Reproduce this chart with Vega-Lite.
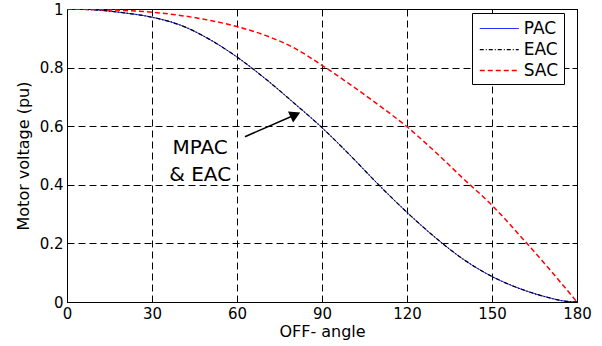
{
  "$schema": "https://vega.github.io/schema/vega-lite/v6.json",
  "width": 510,
  "height": 293,
  "autosize": {"type": "none"},
  "padding": {"left": 67, "top": 9, "right": 25, "bottom": 44},
  "background": "white",
  "config": {
    "font": "DejaVu Sans",
    "view": {"stroke": "black", "strokeWidth": 1},
    "axis": {
      "domainColor": "black",
      "tickColor": "black",
      "labelColor": "black",
      "titleColor": "black",
      "labelFont": "DejaVu Sans",
      "titleFont": "DejaVu Sans",
      "labelFontSize": 15,
      "titleFontSize": 16,
      "titleFontWeight": "normal",
      "tickSize": -5,
      "labelPadding": 9,
      "labelFlush": false,
      "labelOverlap": false,
      "gridColor": "black",
      "gridOpacity": 1,
      "gridDash": [7, 4],
      "gridWidth": 1
    }
  },
  "resolve": {"axis": {"x": "independent", "y": "independent"}},
  "datasets": {
    "curves": [
      {"a": 0, "v": 1.0, "s": "PAC"}, {"a": 5, "v": 0.999, "s": "PAC"}, {"a": 10, "v": 0.997, "s": "PAC"}, {"a": 20, "v": 0.987, "s": "PAC"}, {"a": 30, "v": 0.972, "s": "PAC"}, {"a": 40, "v": 0.945, "s": "PAC"}, {"a": 50, "v": 0.898, "s": "PAC"}, {"a": 60, "v": 0.836, "s": "PAC"}, {"a": 70, "v": 0.762, "s": "PAC"}, {"a": 80, "v": 0.68, "s": "PAC"}, {"a": 90, "v": 0.595, "s": "PAC"}, {"a": 100, "v": 0.5, "s": "PAC"}, {"a": 110, "v": 0.4, "s": "PAC"}, {"a": 120, "v": 0.306, "s": "PAC"}, {"a": 130, "v": 0.22, "s": "PAC"}, {"a": 140, "v": 0.145, "s": "PAC"}, {"a": 150, "v": 0.087, "s": "PAC"}, {"a": 160, "v": 0.045, "s": "PAC"}, {"a": 170, "v": 0.015, "s": "PAC"}, {"a": 175, "v": 0.004, "s": "PAC"}, {"a": 180, "v": 0.0, "s": "PAC"},
      {"a": 0, "v": 1.0, "s": "EAC"}, {"a": 5, "v": 0.999, "s": "EAC"}, {"a": 10, "v": 0.997, "s": "EAC"}, {"a": 20, "v": 0.987, "s": "EAC"}, {"a": 30, "v": 0.972, "s": "EAC"}, {"a": 40, "v": 0.945, "s": "EAC"}, {"a": 50, "v": 0.898, "s": "EAC"}, {"a": 60, "v": 0.836, "s": "EAC"}, {"a": 70, "v": 0.762, "s": "EAC"}, {"a": 80, "v": 0.68, "s": "EAC"}, {"a": 90, "v": 0.595, "s": "EAC"}, {"a": 100, "v": 0.5, "s": "EAC"}, {"a": 110, "v": 0.4, "s": "EAC"}, {"a": 120, "v": 0.306, "s": "EAC"}, {"a": 130, "v": 0.22, "s": "EAC"}, {"a": 140, "v": 0.145, "s": "EAC"}, {"a": 150, "v": 0.087, "s": "EAC"}, {"a": 160, "v": 0.045, "s": "EAC"}, {"a": 170, "v": 0.015, "s": "EAC"}, {"a": 175, "v": 0.004, "s": "EAC"}, {"a": 180, "v": 0.0, "s": "EAC"},
      {"a": 0, "v": 1.0, "s": "SAC"}, {"a": 10, "v": 0.998, "s": "SAC"}, {"a": 20, "v": 0.995, "s": "SAC"}, {"a": 30, "v": 0.989, "s": "SAC"}, {"a": 40, "v": 0.978, "s": "SAC"}, {"a": 50, "v": 0.962, "s": "SAC"}, {"a": 60, "v": 0.94, "s": "SAC"}, {"a": 70, "v": 0.91, "s": "SAC"}, {"a": 80, "v": 0.868, "s": "SAC"}, {"a": 90, "v": 0.808, "s": "SAC"}, {"a": 100, "v": 0.742, "s": "SAC"}, {"a": 110, "v": 0.672, "s": "SAC"}, {"a": 120, "v": 0.598, "s": "SAC"}, {"a": 130, "v": 0.512, "s": "SAC"}, {"a": 140, "v": 0.42, "s": "SAC"}, {"a": 150, "v": 0.33, "s": "SAC"}, {"a": 160, "v": 0.225, "s": "SAC"}, {"a": 170, "v": 0.115, "s": "SAC"}, {"a": 180, "v": 0.0, "s": "SAC"}
    ],
    "arrow": [{"a1": 62.8, "v1": 0.564, "a2": 80.6, "v2": 0.639}],
    "head": [{"a": 80.6, "v": 0.639}],
    "label": [{"a": 47, "v": 0.525, "t": ["MPAC", "& EAC"]}]
  },
  "layer": [
    {
      "data": {"name": "curves"},
      "mark": {"type": "line", "interpolate": "monotone", "clip": true},
      "encoding": {
        "x": {"field": "a", "type": "quantitative", "scale": {"domain": [0, 180], "nice": false, "zero": false},
              "axis": {"values": [0, 30, 60, 90, 120, 150, 180], "title": "OFF- angle", "titlePadding": 2, "grid": true}},
        "y": {"field": "v", "type": "quantitative", "scale": {"domain": [0, 1], "nice": false},
              "axis": {"values": [0, 0.2, 0.4, 0.6, 0.8, 1], "title": "Motor voltage (pu)", "titlePadding": 8, "grid": true, "labelExpr": "datum.value == 0 ? '0' : datum.value == 1 ? '1' : format(datum.value, '.1f')"}},
        "color": {"field": "s", "type": "nominal", "title": null,
                  "scale": {"domain": ["PAC", "EAC", "SAC"], "range": ["#0000ff", "#000000", "#ff0000"]},
                  "legend": {"orient": "none", "legendX": 405, "legendY": 4, "strokeColor": "black", "fillColor": "white",
                             "padding": 5, "symbolType": "M-2,0H2", "symbolSize": 380, "symbolStrokeWidth": 1.5, "symbolOffset": 11.75,
                             "labelFontSize": 17, "labelFont": "DejaVu Sans", "labelColor": "black", "rowPadding": 2, "labelOffset": 14, "cornerRadius": 0}},
        "strokeDash": {"field": "s", "type": "nominal", "title": null,
                       "scale": {"domain": ["PAC", "EAC", "SAC"], "range": [[1, 0], [4, 2, 1, 2], [5, 3]]}},
        "strokeWidth": {"field": "s", "type": "nominal", "legend": null,
                        "scale": {"domain": ["PAC", "EAC", "SAC"], "range": [1, 1.5, 2]}}
      }
    },
    {
      "data": {"name": "head"},
      "mark": {"type": "point", "opacity": 0},
      "encoding": {
        "x": {"field": "a", "type": "quantitative", "axis": {"orient": "top", "values": [0, 30, 60, 90, 120, 150, 180], "labels": false, "title": null, "domain": false, "grid": false}},
        "y": {"field": "v", "type": "quantitative", "axis": {"orient": "right", "values": [0, 0.2, 0.4, 0.6, 0.8, 1], "labels": false, "title": null, "domain": false, "grid": false}}
      }
    },
    {
      "data": {"name": "arrow"},
      "mark": {"type": "rule", "color": "black", "strokeWidth": 1.5},
      "encoding": {
        "x": {"field": "a1", "type": "quantitative", "axis": null},
        "y": {"field": "v1", "type": "quantitative", "axis": null},
        "x2": {"field": "a2"},
        "y2": {"field": "v2"}
      }
    },
    {
      "data": {"name": "head"},
      "mark": {"type": "point", "shape": "triangle-right", "filled": true, "color": "black", "opacity": 1, "size": 150, "angle": 335.4},
      "encoding": {
        "x": {"field": "a", "type": "quantitative", "axis": null},
        "y": {"field": "v", "type": "quantitative", "axis": null}
      }
    },
    {
      "data": {"name": "label"},
      "mark": {"type": "text", "fontSize": 20, "font": "DejaVu Sans", "color": "black", "align": "center", "baseline": "middle", "lineHeight": 27},
      "encoding": {
        "x": {"field": "a", "type": "quantitative", "axis": null},
        "y": {"field": "v", "type": "quantitative", "axis": null},
        "text": {"field": "t"}
      }
    }
  ]
}
